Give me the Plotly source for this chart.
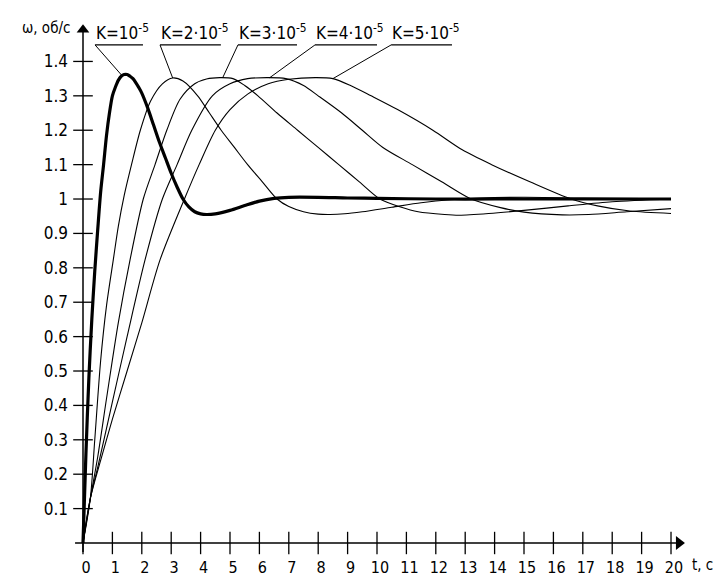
import numpy as np
import plotly.graph_objects as go

# ---------------- data ----------------
t_k1 = [0, 0.1, 0.2, 0.3, 0.4, 0.5, 0.6, 0.7, 0.8, 0.9, 1.0, 1.1, 1.2, 1.3, 1.4, 1.5, 1.6, 1.7,
        1.8, 1.9, 2.0, 2.2, 2.4, 2.6, 2.8, 3.0, 3.2, 3.4, 3.6, 3.8, 4.0, 4.2, 4.5, 5.0, 5.5,
        6.0, 6.5, 7.0, 8.0, 9.0, 10, 12, 14, 16, 18, 20]
w_k1 = [0, 0.26, 0.48, 0.65, 0.79, 0.91, 1.02, 1.10, 1.185, 1.25, 1.30, 1.325, 1.345, 1.357,
        1.362, 1.362, 1.357, 1.35, 1.338, 1.324, 1.308, 1.265, 1.215, 1.165, 1.12, 1.075,
        1.035, 1.0, 0.977, 0.963, 0.957, 0.955, 0.957, 0.967, 0.981, 0.994, 1.002, 1.005,
        1.005, 1.003, 1.002, 1.0, 1.0, 1.0, 1.0, 1.0]

t_k2 = [0, 0.25, 0.4, 0.6, 0.8, 1.03, 1.2, 1.4, 1.65, 1.95, 2.3, 2.7, 3.05, 3.4, 3.9, 4.3,
        4.7, 5.15, 5.6, 6.1, 6.6, 7.0, 7.5, 8.0, 8.4, 8.9, 9.5, 10.5, 11.5, 12.5, 13.5, 15,
        17, 20]
w_k2 = [0, 0.13, 0.30, 0.53, 0.69, 0.823, 0.92, 1.01, 1.10, 1.20, 1.285, 1.335, 1.352, 1.343,
        1.30, 1.25, 1.20, 1.15, 1.10, 1.05, 1.0, 0.978, 0.963, 0.956, 0.955, 0.957, 0.963,
        0.976, 0.989, 0.998, 1.003, 1.005, 1.003, 1.001]

t_k3 = [0, 0.25, 0.5, 0.8, 1.2, 1.6, 2.05, 2.45, 2.85, 3.3, 3.8, 4.2, 4.65, 5.1, 5.5, 5.95,
        6.6, 7.3, 8.0, 8.7, 9.4, 10.1, 10.8, 11.4, 12.3, 12.8, 13.8, 15.0, 16.5, 18.0, 20]
w_k3 = [0, 0.13, 0.25, 0.42, 0.64, 0.823, 1.0, 1.1, 1.2, 1.29, 1.335, 1.349, 1.353, 1.35,
        1.33, 1.30, 1.25, 1.20, 1.15, 1.10, 1.05, 1.0, 0.977, 0.963, 0.955, 0.953, 0.958,
        0.967, 0.98, 0.992, 1.0]

t_k4 = [0, 0.25, 0.5, 1.0, 1.5, 2.11, 2.7, 3.2, 3.7, 4.4, 5.0, 5.6, 6.3, 6.9, 7.5, 8.0,
        8.8, 9.5, 10.2, 11.2, 12.2, 13.2, 14.2, 15.0, 16.3, 17.2, 18.5, 20]
w_k4 = [0, 0.13, 0.22, 0.41, 0.60, 0.823, 1.0, 1.1, 1.2, 1.3, 1.335, 1.35, 1.353, 1.35,
        1.33, 1.30, 1.25, 1.20, 1.15, 1.10, 1.05, 1.0, 0.975, 0.962, 0.954, 0.955, 0.963,
        0.972]

t_k5 = [0, 0.25, 0.6, 1.0, 1.5, 2.0, 2.62, 3.45, 3.95, 4.5, 5.0, 5.6, 6.3, 7.0, 7.9, 8.5,
        9.1, 9.8, 10.7, 11.9, 12.9, 13.9, 15.2, 16.6, 17.5, 18.6, 20]
w_k5 = [0, 0.13, 0.24, 0.36, 0.50, 0.64, 0.823, 1.0, 1.1, 1.2, 1.26, 1.305, 1.335, 1.348,
        1.353, 1.35, 1.33, 1.30, 1.26, 1.20, 1.143, 1.10, 1.05, 1.0, 0.98, 0.965, 0.958]

x_ticks = list(range(0, 21))
y_ticks = [0.1, 0.2, 0.3, 0.4, 0.5, 0.6, 0.7, 0.8, 0.9, 1.0, 1.1, 1.2, 1.3, 1.4]
y_tick_text = ["0.1", "0.2", "0.3", "0.4", "0.5", "0.6", "0.7", "0.8", "0.9", "1",
               "1.1", "1.2", "1.3", "1.4"]

labels = ["K=10<sup>-5</sup>", "K=2·10<sup>-5</sup>", "K=3·10<sup>-5</sup>",
          "K=4·10<sup>-5</sup>", "K=5·10<sup>-5</sup>"]
label_start = [0.41, 2.62, 5.27, 7.89, 10.48]
label_end = [2.04, 4.69, 7.28, 10.0, 12.55]
label_level = 1.448
label_target_t = [1.33, 3.05, 4.75, 6.35, 8.5]

# ---------------- figure ----------------
FONT = "Liberation Sans Narrow, Arial Narrow, DejaVu Sans Condensed, Liberation Sans, sans-serif"
fig = go.Figure()

curves = [(t_k1, w_k1), (t_k2, w_k2), (t_k3, w_k3), (t_k4, w_k4), (t_k5, w_k5)]
for i, (tt, ww) in enumerate(curves):
    fig.add_trace(go.Scatter(x=tt, y=ww, mode="lines", line_shape="spline",
                             line=dict(color="black", width=3.2 if i == 0 else 1.1,
                                       smoothing=0.8),
                             hoverinfo="skip", showlegend=False))

# tick marks crossing the axes
fig.add_trace(go.Scatter(x=x_ticks, y=[0] * len(x_ticks), mode="markers", cliponaxis=False,
                         marker=dict(symbol="line-ns", size=16, line=dict(color="black", width=1.3)),
                         hoverinfo="skip", showlegend=False))
fig.add_trace(go.Scatter(x=[0] * len(y_ticks), y=y_ticks, mode="markers", cliponaxis=False,
                         marker=dict(symbol="line-ew", size=14, line=dict(color="black", width=1.3)),
                         hoverinfo="skip", showlegend=False))
# arrow heads
fig.add_trace(go.Scatter(x=[20.27], y=[0], mode="markers", cliponaxis=False,
                         marker=dict(symbol="triangle-right", size=12, color="black"),
                         hoverinfo="skip", showlegend=False))
fig.add_trace(go.Scatter(x=[0], y=[1.492], mode="markers", cliponaxis=False,
                         marker=dict(symbol="triangle-up", size=11, color="black"),
                         hoverinfo="skip", showlegend=False))

shapes = [
    dict(type="line", xref="x", yref="y", x0=-0.27, x1=20.3, y0=0, y1=0,
         line=dict(color="black", width=1.5)),
    dict(type="line", xref="x", yref="y", x0=0, x1=0, y0=-0.026, y1=1.49,
         line=dict(color="black", width=1.5)),
]
annotations = []
for i, lab in enumerate(labels):
    tt, ww = curves[i]
    ty = float(np.interp(label_target_t[i], tt, ww))
    shapes.append(dict(type="line", xref="x", yref="y", x0=label_start[i], x1=label_end[i],
                       y0=label_level, y1=label_level, line=dict(color="black", width=1.2)))
    shapes.append(dict(type="line", xref="x", yref="y", x0=label_start[i], x1=label_target_t[i],
                       y0=label_level, y1=ty, line=dict(color="black", width=1)))
    annotations.append(dict(x=label_start[i], y=label_level, xref="x", yref="y", text=lab,
                            showarrow=False, xanchor="left", yanchor="bottom", xshift=-1,
                            font=dict(family=FONT, size=17, color="black")))

annotations.append(dict(x=-0.0016, y=0.976, xref="paper", yref="paper", text="ω, об/с",
                        showarrow=False, xanchor="right", yanchor="middle",
                        font=dict(family=FONT, size=15, color="black")))
annotations.append(dict(x=1.04, y=-0.0389, xref="paper", yref="paper", text="t, с",
                        showarrow=False, xanchor="right", yanchor="bottom",
                        font=dict(family=FONT, size=15, color="black")))

fig.update_layout(
    width=723, height=577,
    margin=dict(l=73, r=33, t=15, b=22, autoexpand=False),
    paper_bgcolor="white", plot_bgcolor="white",
    shapes=shapes, annotations=annotations,
    font=dict(family=FONT, size=17, color="black"),
    xaxis=dict(range=[-0.34, 20.646], showgrid=False, zeroline=False, showline=False,
               tickmode="array", tickvals=x_ticks, ticktext=[str(v) for v in x_ticks],
               ticks="", fixedrange=True, automargin=False, ticklabelshift=3,
               ticklabelstandoff=1, tickfont=dict(size=16)),
    yaxis=dict(range=[-0.0349, 1.535], showgrid=False, zeroline=False, showline=False,
               tickmode="array", tickvals=y_ticks, ticktext=y_tick_text,
               ticks="", fixedrange=True, automargin=False, ticklabelstandoff=4),
)

fig.write_html("out.html", config={"displayModeBar": False},
               post_script="document.body.style.margin='0px';document.body.style.padding='0px';")
